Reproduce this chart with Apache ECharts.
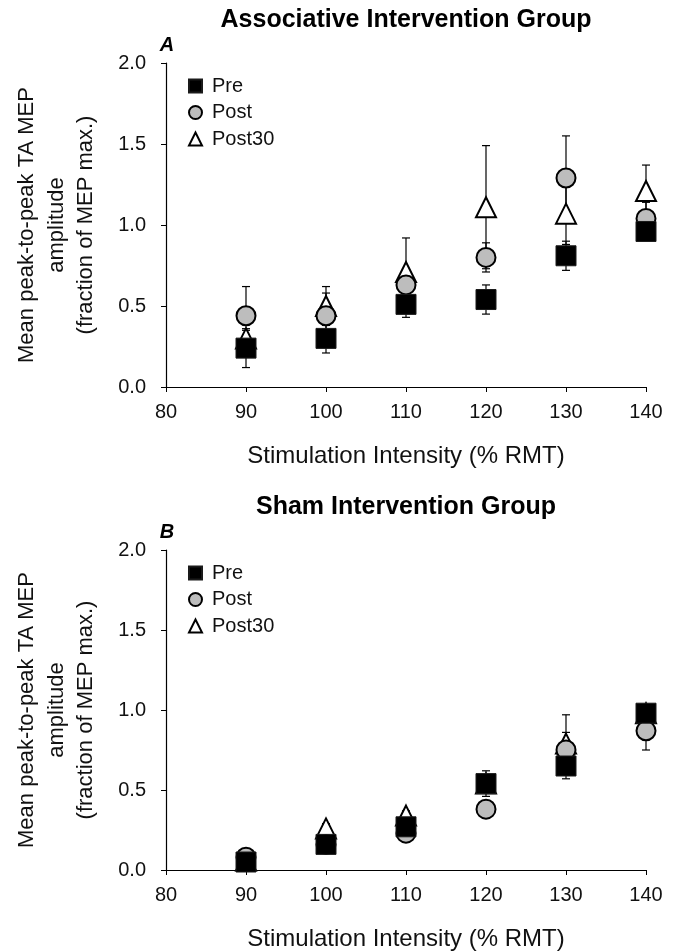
<!DOCTYPE html>
<html>
<head>
<meta charset="utf-8">
<script src="https://cdn.jsdelivr.net/npm/echarts@6/dist/echarts.min.js"></script>
<style>
html,body{margin:0;padding:0;background:#fff;}
#c{width:675px;height:952px;}
</style>
</head>
<body>
<div id="c"></div>
<script>
// ---- data ----
const intensities = [90, 100, 110, 120, 130, 140];
const xTicks = [80, 90, 100, 110, 120, 130, 140];
const yTicks = [0.0, 0.5, 1.0, 1.5, 2.0];
const seriesNames = ['Pre', 'Post', 'Post30'];
const panelTitles = ['Associative Intervention Group', 'Sham Intervention Group'];
const panelLetters = ['A', 'B'];
const xTitle = 'Stimulation Intensity (% RMT)';
const yTitle = 'Mean peak-to-peak TA MEP\namplitude\n(fraction of MEP max.)';

// Associative group
const assocPre = [0.24, 0.30, 0.51, 0.54, 0.81, 0.96];
const assocPreErr = [0.12, 0.09, 0.08, 0.09, 0.09, 0.05];
const assocPost = [0.44, 0.44, 0.63, 0.80, 1.29, 1.04];
const assocPostErr = [0.18, 0.14, 0.06, 0.09, 0.26, 0.10];
const assocPost30 = [0.30, 0.50, 0.71, 1.11, 1.07, 1.21];
const assocPost30Err = [0.05, 0.12, 0.21, 0.38, 0.19, 0.16];

// Sham group
const shamPre = [0.05, 0.16, 0.27, 0.54, 0.65, 0.98];
const shamPreErr = [0.02, 0.03, 0.04, 0.08, 0.08, 0.03];
const shamPost = [0.08, 0.16, 0.23, 0.38, 0.75, 0.87];
const shamPostErr = [0.02, 0.03, 0.03, 0.04, 0.11, 0.12];
const shamPost30 = [0.06, 0.26, 0.34, 0.54, 0.79, 0.98];
const shamPost30Err = [0.02, 0.03, 0.03, 0.05, 0.18, 0.03];

const FONT = '"Liberation Sans", Arial, Helvetica, sans-serif';

const panels = [
  { pre: assocPre, preErr: assocPreErr, post: assocPost, postErr: assocPostErr, p30: assocPost30, p30Err: assocPost30Err },
  { pre: shamPre, preErr: shamPreErr, post: shamPost, postErr: shamPostErr, p30: shamPost30, p30Err: shamPost30Err }
];

const gridTops = [63, 550];
const gridH = 324;
const gridLeft = 166, gridRight = 29;

const styles = {
  Pre: { symbol: 'rect', size: 20, itemStyle: { color: '#000', borderColor: '#1a1a1a', borderWidth: 1, opacity: 1 } },
  Post: { symbol: 'circle', size: 19, itemStyle: { color: '#bdbdbd', borderColor: '#000', borderWidth: 2, opacity: 1 } },
  Post30: { symbol: 'triangle', size: 20, itemStyle: { color: '#fff', borderColor: '#000', borderWidth: 2, opacity: 1 } }
};

function zip(xs, ys, es) { return xs.map((x, i) => es ? [x, ys[i], es[i]] : [x, ys[i]]); }

function errRender(params, api) {
  const x = api.value(0), y = api.value(1), e = api.value(2);
  const t = api.coord([x, y + e]);
  const b = api.coord([x, y - e]);
  const w = 4;
  const st = { stroke: '#000', lineWidth: 1.2 };
  return {
    type: 'group',
    children: [
      { type: 'line', shape: { x1: t[0], y1: t[1], x2: b[0], y2: b[1] }, style: st },
      { type: 'line', shape: { x1: t[0] - w, y1: t[1], x2: t[0] + w, y2: t[1] }, style: st },
      { type: 'line', shape: { x1: b[0] - w, y1: b[1], x2: b[0] + w, y2: b[1] }, style: st }
    ]
  };
}

const grid = [], xAxis = [], yAxis = [], series = [], legend = [], graphic = [];

panels.forEach((p, k) => {
  grid.push({ left: gridLeft, right: gridRight, top: gridTops[k], height: gridH });
  xAxis.push({
    type: 'value', gridIndex: k, min: xTicks[0], max: xTicks[xTicks.length - 1], interval: 10,
    splitLine: { show: false },
    axisLine: { lineStyle: { color: '#000', width: 1.2 } },
    axisTick: { length: 5, lineStyle: { color: '#000' } },
    axisLabel: { color: '#111', fontSize: 20, fontFamily: FONT, margin: 15 },
    name: xTitle, nameLocation: 'middle', nameGap: 57,
    nameTextStyle: { color: '#111', fontSize: 24, fontFamily: FONT }
  });
  yAxis.push({
    type: 'value', gridIndex: k, min: yTicks[0], max: yTicks[yTicks.length - 1], interval: 0.5,
    splitLine: { show: false },
    axisLine: { show: true, lineStyle: { color: '#000', width: 1.2 } },
    axisTick: { show: true, length: 5, lineStyle: { color: '#000' } },
    axisLabel: { color: '#111', fontSize: 20, fontFamily: FONT, margin: 20, formatter: v => v.toFixed(1) },
    name: yTitle, nameLocation: 'middle', nameRotate: 90, nameGap: 65,
    nameTextStyle: { color: '#111', fontSize: 22, fontFamily: FONT, lineHeight: 29.5 }
  });

  const defs = [
    ['Post30', p.p30, p.p30Err],
    ['Post', p.post, p.postErr],
    ['Pre', p.pre, p.preErr]
  ];
  defs.forEach(([name, vals, errs]) => {
    series.push({
      type: 'custom', name: name + ' error', xAxisIndex: k, yAxisIndex: k, z: 1,
      renderItem: errRender, encode: { x: 0, y: 1 }, data: zip(intensities, vals, errs),
      silent: true
    });
  });
  defs.forEach(([name, vals], j) => {
    const s = styles[name];
    series.push({
      type: 'scatter', name: name, xAxisIndex: k, yAxisIndex: k, z: 3 + j,
      symbol: s.symbol, symbolSize: s.size, itemStyle: s.itemStyle,
      data: zip(intensities, vals)
    });
  });

  legend.push({
    data: seriesNames, orient: 'vertical', left: 183, top: gridTops[k] + 8,
    itemWidth: 13, itemHeight: 13, itemGap: 6.5, selectedMode: false,
    textStyle: { color: '#111', fontSize: 20, fontFamily: FONT, lineHeight: 20, padding: [0, 0, 0, 5] }
  });

  graphic.push({
    type: 'text', x: 406, y: gridTops[k] - 43,
    style: { text: panelTitles[k], font: 'bold 25px ' + FONT, fill: '#000', textAlign: 'center', textVerticalAlign: 'middle' }
  });
  graphic.push({
    type: 'text', x: 167, y: gridTops[k] - 18,
    style: { text: panelLetters[k], font: 'italic bold 20px ' + FONT, fill: '#000', textAlign: 'center', textVerticalAlign: 'middle' }
  });
});

const chart = echarts.init(document.getElementById('c'), null, { renderer: 'canvas' });
chart.setOption({
  backgroundColor: '#fff',
  animation: false,
  grid, xAxis, yAxis, series, legend, graphic
});
</script>
</body>
</html>
